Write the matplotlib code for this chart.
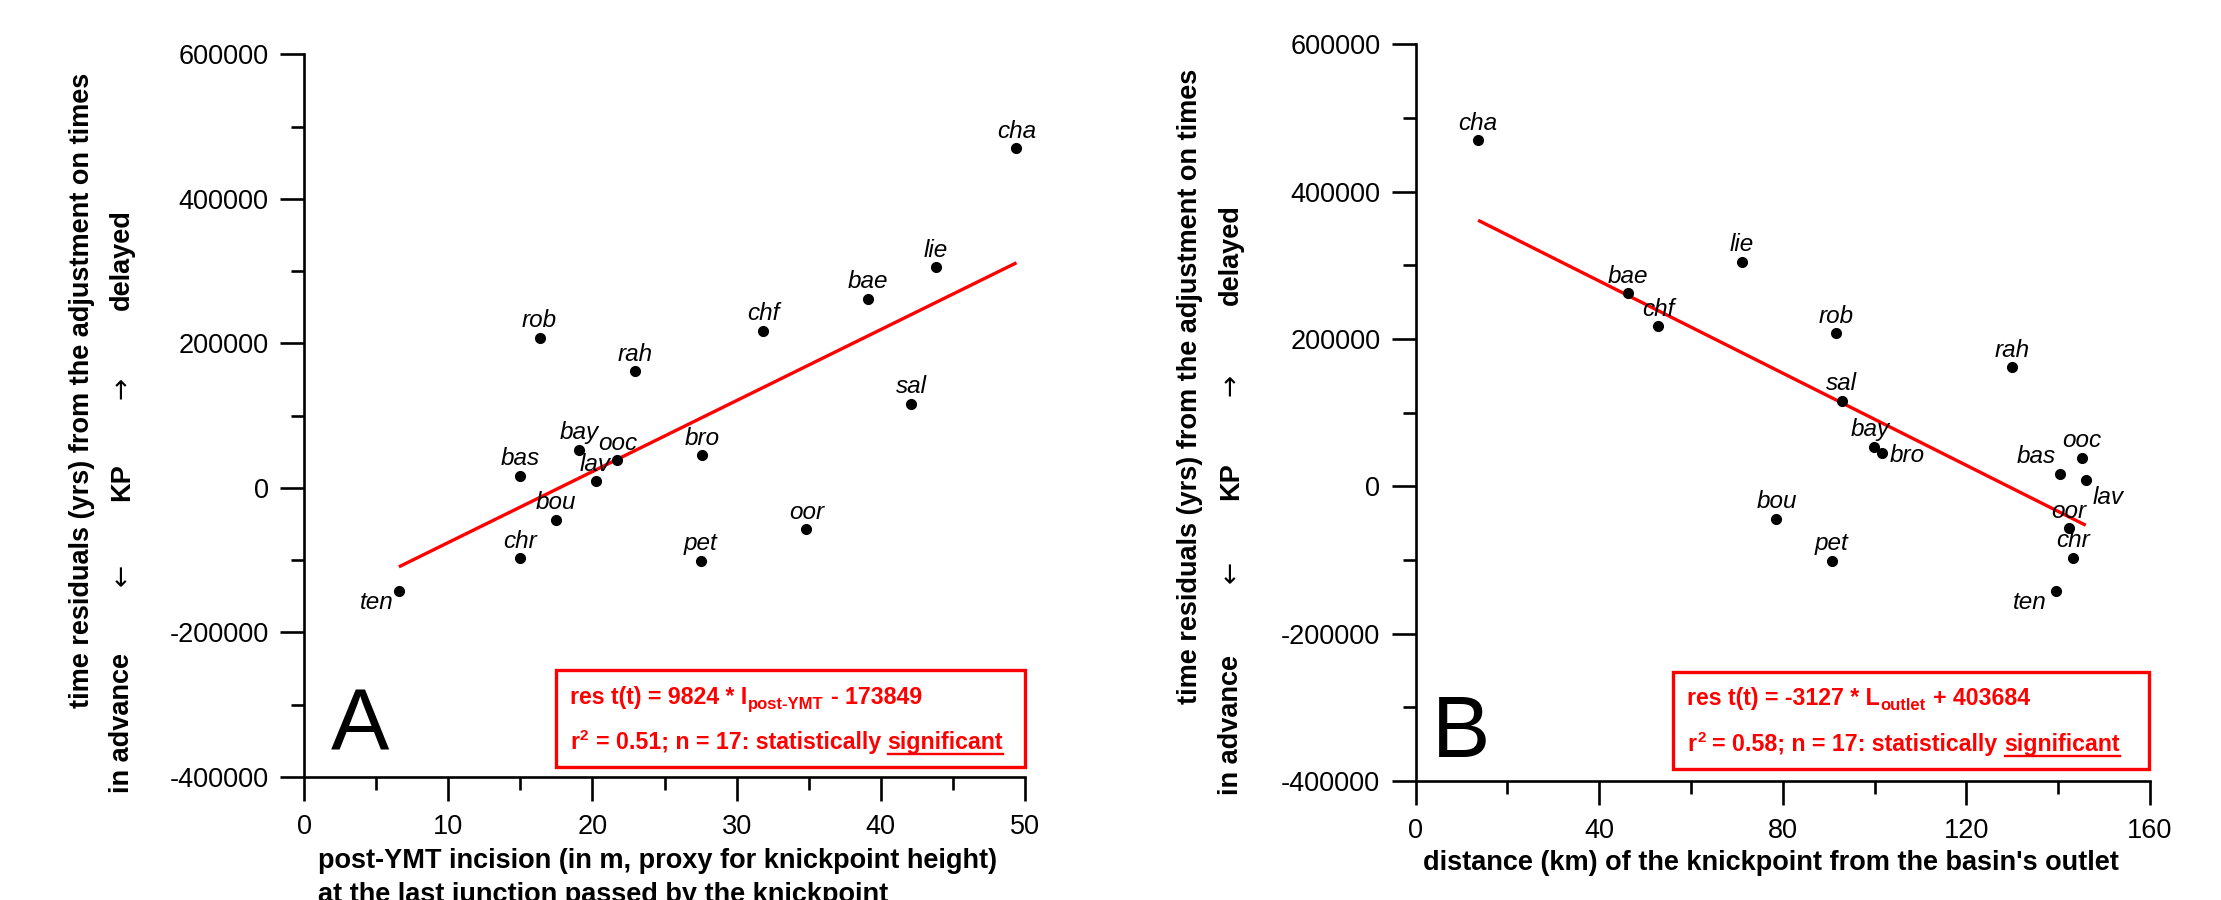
import matplotlib
matplotlib.use('Agg')
import matplotlib.pyplot as plt
from matplotlib.patches import Rectangle
from matplotlib.lines import Line2D
from matplotlib.ticker import MultipleLocator, FuncFormatter
import numpy as np

plt.rcParams['font.family'] = ['Liberation Sans', 'DejaVu Sans']
plt.rcParams['axes.unicode_minus'] = False

# ---------------- data ----------------
names = ['cha', 'lie', 'bae', 'chf', 'rob', 'rah', 'sal', 'bay', 'bro',
         'ooc', 'bas', 'lav', 'bou', 'oor', 'chr', 'pet', 'ten']
residuals = [470000, 305000, 262000, 217200, 208000, 161300, 116300, 52800, 45400,
             38600, 17000, 9000, -43800, -57200, -97000, -101000, -142300]
incision = [49.41, 43.82, 39.10, 31.85, 16.34, 22.96, 42.10, 19.09, 27.62,
            21.74, 15.01, 20.22, 17.47, 34.84, 15.01, 27.53, 6.58]
distance = [13.6, 71.0, 46.2, 52.8, 91.6, 130.0, 92.8, 99.8, 101.5,
            145.2, 140.4, 146.0, 78.6, 142.4, 143.3, 90.7, 139.5]

fitA = (9824, -173849)
fitB = (-3127, 403684)

xticksA = [0, 10, 20, 30, 40, 50]
xticksB = [0, 40, 80, 120, 160]
yticks = [-400000, -200000, 0, 200000, 400000, 600000]

eqA = ("res t(t) = 9824 * I", "post-YMT", "- 173849")
eqB = ("res t(t) = -3127 * L", "outlet", "+ 403684")
statA = ("r", "2", "= 0.51; n = 17: statistically", "significant")
statB = ("r", "2", "= 0.58; n = 17: statistically", "significant")

# ---------------- layout helpers ----------------
W, H, DPI = 2221, 900, 100
fig = plt.figure(figsize=(W / DPI, H / DPI), dpi=DPI)
fig.patch.set_facecolor('white')


def fx(px):
    return px / W


def fy(py):
    return 1 - py / H


def make_axes(l, r, t, b):
    return fig.add_axes([fx(l), fy(b), fx(r) - fx(l), fy(t) - fy(b)])


axA = make_axes(304, 1025, 54.3, 777)
axB = make_axes(1415.7, 2150, 44.3, 781)

# per-label offsets in pixels (dx, dy, ha); default above the dot
offA = {'ten': (-5, -18, 'right')}
offB = {'bro': (8, -9, 'left'), 'bas': (-4, 11, 'right'), 'lav': (7, -24, 'left'),
        'ten': (-9, -18, 'right'), 'bay': (-4, 11, 'center')}

TICK_FS = 19.5
LABEL_FS = 19.5


def style_axes(ax, xmax, xmaj, xmin_step):
    ax.set_xlim(0, xmax)
    ax.set_ylim(-400000, 600000)
    for s in ['top', 'right']:
        ax.spines[s].set_visible(False)
    for s in ['left', 'bottom']:
        ax.spines[s].set_linewidth(1.9)
    ax.set_xticks(xmaj)
    ax.xaxis.set_minor_locator(MultipleLocator(xmin_step))
    ax.set_yticks(yticks)
    ax.yaxis.set_minor_locator(MultipleLocator(100000))
    ax.yaxis.set_major_formatter(FuncFormatter(lambda v, p: f"{int(round(v))}"))
    ax.xaxis.set_major_formatter(FuncFormatter(lambda v, p: f"{int(round(v))}"))
    ax.tick_params(which='major', direction='out', length=17.5, width=1.9,
                   labelsize=TICK_FS, color='black')
    ax.tick_params(which='minor', direction='out', length=9.4, width=1.9)
    ax.tick_params(axis='y', which='major', pad=8)
    ax.tick_params(axis='x', which='major', pad=9)
    ax.set_facecolor('none')


def plot_panel(ax, xs, fit, offs):
    xs = np.asarray(xs, dtype=float)
    ys = np.asarray(residuals, dtype=float)
    xl = np.array([xs.min(), xs.max()])
    ax.plot(xl, fit[0] * xl + fit[1], color='#ff0000', lw=2.4, zorder=2,
            solid_capstyle='butt')
    ax.plot(xs, ys, 'o', color='black', ms=7, zorder=3, clip_on=False)
    for n, x, y in zip(names, xs, ys):
        dx, dy, ha = offs.get(n, (0, 10.5, 'center'))
        ax.annotate(n, (x, y), xytext=(dx, dy), textcoords='offset pixels',
                    ha=ha, va='baseline', fontsize=17.5, style='italic',
                    annotation_clip=False, zorder=4)


style_axes(axA, 50, xticksA, 5)
style_axes(axB, 160, xticksB, 20)
plot_panel(axA, incision, fitA, offA)
plot_panel(axB, distance, fitB, offB)

# ---------------- axis titles ----------------
ylab1 = "time residuals (yrs) from the adjustment on times"
for (x1, yc1, x2, ypos) in [(82, 390, 122, (723, 575, 482, 388, 260)),
                            (1190, 386, 1231, (725, 572, 481, 385, 255))]:
    fig.text(fx(x1), fy(yc1), ylab1, rotation=90, ha='center', va='center',
             fontsize=LABEL_FS, fontweight='bold')
    parts = [("in advance", 'bold', LABEL_FS), ("\u2190", 'normal', 19), ("KP", 'bold', LABEL_FS),
             ("\u2192", 'normal', 19), ("delayed", 'bold', LABEL_FS)]
    for (txt, wt, sz), yp in zip(parts, ypos):
        fam = ['DejaVu Sans'] if wt == 'normal' else ['Liberation Sans', 'DejaVu Sans']
        fig.text(fx(x2), fy(yp), txt, rotation=90, ha='center', va='center',
                 fontsize=sz, fontweight=wt, family=fam)

fig.text(fx(318), fy(868), "post-YMT incision (in m, proxy for knickpoint height)",
         ha='left', va='baseline', fontsize=LABEL_FS, fontweight='bold')
fig.text(fx(318), fy(902), "at the last junction passed by the knickpoint",
         ha='left', va='baseline', fontsize=LABEL_FS, fontweight='bold')
fig.text(fx(1771), fy(870), "distance (km) of the knickpoint from the basin's outlet",
         ha='center', va='baseline', fontsize=LABEL_FS, fontweight='bold')

# big panel letters
fig.text(fx(331), fy(751), "A", ha='left', va='baseline', fontsize=63)
fig.text(fx(1432), fy(757), "B", ha='left', va='baseline', fontsize=63)

# ---------------- red equation boxes ----------------
RED = '#ff0000'
for (l, t, r, b) in [(556, 670, 1025, 767), (1673, 672, 2149, 769)]:
    fig.add_artist(Rectangle((fx(l), fy(b)), fx(r) - fx(l), fy(t) - fy(b),
                             transform=fig.transFigure, fill=False,
                             edgecolor=RED, lw=2.4))

renderer = fig.canvas.get_renderer()


def draw_runs(x_px, base_px, runs):
    x = x_px
    for txt, size, dy, ul, gap in runs:
        t = fig.text(fx(x), fy(base_px - dy), txt, fontsize=size, fontweight='bold',
                     color=RED, ha='left', va='baseline')
        bb = t.get_window_extent(renderer=renderer)
        if ul:
            yl = base_px + 4.5
            fig.add_artist(Line2D([fx(bb.x0), fx(bb.x1)], [fy(yl), fy(yl)],
                                  transform=fig.transFigure, color=RED, lw=1.7))
        x = bb.x1 + gap


BOX_FS = 16.7
for (x0, b1, b2, eq, st) in [(570, 704, 749, eqA, statA), (1687, 705, 751, eqB, statB)]:
    draw_runs(x0, b1, [(eq[0], BOX_FS, 0, False, 1), (eq[1], 12, -5, False, 7),
                       (eq[2], BOX_FS, 0, False, 0)])
    draw_runs(x0, b2, [(st[0], BOX_FS, 0, False, 1), (st[1], 11, 8.5, False, 7),
                       (st[2], BOX_FS, 0, False, 7), (st[3], BOX_FS, 0, True, 0)])

fig.savefig('out.png', dpi=DPI, facecolor='white')
